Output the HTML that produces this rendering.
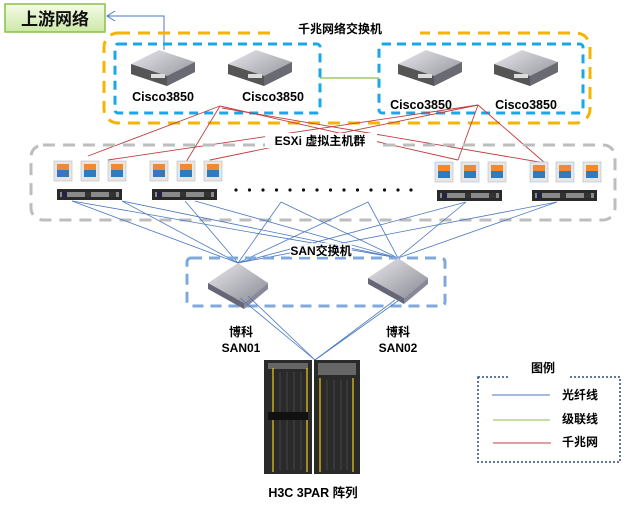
<!DOCTYPE html>
<html><head><meta charset="utf-8"><style>
body{margin:0;background:#fff}
svg{display:block;font-family:"Liberation Sans","Noto Sans CJK SC",sans-serif}
</style></head><body>
<svg width="629" height="505" viewBox="0 0 629 505" xmlns="http://www.w3.org/2000/svg">
<defs>
<linearGradient id="gg" x1="0" y1="0" x2="0" y2="1"><stop offset="0" stop-color="#f4fbe8"/><stop offset="1" stop-color="#cde8a6"/></linearGradient>
<linearGradient id="sw" x1="0" y1="0" x2="1" y2="1"><stop offset="0" stop-color="#e8e8ec"/><stop offset="1" stop-color="#8a8a94"/></linearGradient>
<g id="cisco">
<polygon points="0,14 28,0 64,12 64,22 36,36 0,24" fill="url(#sw)"/>
<polygon points="0,14 36,26 36,36 0,24" fill="#555"/>
<polygon points="36,26 64,12 64,22 36,36" fill="#6a6a72"/>
<rect x="20" y="24" width="14" height="4" fill="#ddd"/>
</g>
<g id="san">
<polygon points="0,20 30,0 60,20 36,40" fill="url(#sw)"/>
<polygon points="0,20 36,40 36,46 0,26" fill="#667"/>
<polygon points="36,40 60,20 60,26 36,46" fill="#889"/>
</g>
<g id="vm">
<rect x="0" y="0" width="18" height="20" fill="#e6e6e6" stroke="#bbb" stroke-width="0.6"/>
<rect x="3" y="3" width="12" height="6" fill="#f08a30"/>
<rect x="3" y="9" width="12" height="7" fill="#2e7bc0"/>
</g>
<g id="srv">
<rect x="0" y="0" width="65" height="11" fill="#2a2a2a"/>
<rect x="3" y="3" width="59" height="5" fill="#8a8a8a"/>
<rect x="5" y="3" width="5" height="5" fill="#224"/>
<rect x="28" y="3" width="6" height="5" fill="#333"/>
<rect x="52" y="3" width="7" height="5" fill="#333"/>
</g>
</defs>

<rect x="5" y="4" width="100" height="28" fill="url(#gg)" stroke="#8cbf4a" stroke-width="1.5"/>
<text x="55" y="25" font-size="17" font-weight="bold" text-anchor="middle" fill="#111">上游网络</text>
<polyline points="164,50 164,16 107,16" fill="none" stroke="#4a78c0" stroke-width="1"/>
<polyline points="115,11 107,16 115,21" fill="none" stroke="#4a78c0" stroke-width="1"/>

<rect x="104" y="33" width="486" height="90" rx="14" fill="none" stroke="#f5b400" stroke-width="3" stroke-dasharray="12,8"/>
<rect x="270" y="22" width="150" height="14" fill="#fff"/>
<text x="340" y="33" font-size="12" font-weight="bold" text-anchor="middle">千兆网络交换机</text>
<rect x="115" y="44" width="205" height="69" rx="3" fill="none" stroke="#1aa7e8" stroke-width="3" stroke-dasharray="9,6"/>
<rect x="379" y="44" width="204" height="69" rx="3" fill="none" stroke="#1aa7e8" stroke-width="3" stroke-dasharray="9,6"/>
<line x1="320" y1="78" x2="379" y2="78" stroke="#8cbf4a" stroke-width="1.2"/>
<use href="#cisco" x="131" y="50"/>
<use href="#cisco" x="228" y="50"/>
<use href="#cisco" x="398" y="50"/>
<use href="#cisco" x="494" y="50"/>
<g font-size="12.5" font-weight="bold" text-anchor="middle">
<text x="163" y="101">Cisco3850</text>
<text x="273" y="101">Cisco3850</text>
<text x="421" y="109">Cisco3850</text>
<text x="526" y="109">Cisco3850</text>
</g>

<g stroke="#c0403f" stroke-width="0.9" fill="none">
<line x1="220" y1="106" x2="88" y2="156"/>
<line x1="220" y1="106" x2="186" y2="162"/>
<line x1="220" y1="106" x2="458" y2="160"/>
<line x1="222" y1="108" x2="545" y2="163"/>
<line x1="478" y1="105" x2="458" y2="160"/>
<line x1="478" y1="105" x2="545" y2="163"/>
<line x1="478" y1="105" x2="108" y2="160"/>
<line x1="478" y1="105" x2="210" y2="160"/>
</g>

<rect x="31" y="145" width="584" height="75" rx="12" fill="none" stroke="#bdbdbd" stroke-width="3" stroke-dasharray="12,8"/>
<rect x="265" y="133" width="112" height="15" fill="#fff"/>
<text x="320" y="145" font-size="12" font-weight="bold" text-anchor="middle">ESXi 虚拟主机群</text>
<use href="#vm" x="54" y="161"/><use href="#vm" x="81" y="161"/><use href="#vm" x="108" y="161"/>
<use href="#vm" x="150" y="161"/><use href="#vm" x="177" y="161"/><use href="#vm" x="204" y="161"/>
<use href="#vm" x="435" y="162"/><use href="#vm" x="461" y="162"/><use href="#vm" x="488" y="162"/>
<use href="#vm" x="530" y="162"/><use href="#vm" x="556" y="162"/><use href="#vm" x="583" y="162"/>
<use href="#srv" x="57" y="189"/><use href="#srv" x="152" y="189"/>
<use href="#srv" x="437" y="190"/><use href="#srv" x="532" y="190"/>
<g fill="#111">
<circle cx="236" cy="190" r="1.6"/><circle cx="249.5" cy="190" r="1.6"/><circle cx="263" cy="190" r="1.6"/><circle cx="276.5" cy="190" r="1.6"/><circle cx="290" cy="190" r="1.6"/><circle cx="303.5" cy="190" r="1.6"/><circle cx="317" cy="190" r="1.6"/><circle cx="330.5" cy="190" r="1.6"/><circle cx="344" cy="190" r="1.6"/><circle cx="357.5" cy="190" r="1.6"/><circle cx="371" cy="190" r="1.6"/><circle cx="384.5" cy="190" r="1.6"/><circle cx="398" cy="190" r="1.6"/><circle cx="411" cy="190" r="1.6"/>
</g>

<g stroke="#4a78c0" stroke-width="0.8" fill="none">
<line x1="72" y1="201" x2="238" y2="263"/><line x1="72" y1="201" x2="398" y2="258"/>
<line x1="122" y1="201" x2="238" y2="263"/><line x1="122" y1="201" x2="398" y2="258"/>
<line x1="185" y1="201" x2="238" y2="263"/><line x1="195" y1="201" x2="398" y2="258"/>
<line x1="281" y1="202" x2="238" y2="263"/><line x1="281" y1="202" x2="398" y2="258"/>
<line x1="368" y1="202" x2="238" y2="263"/><line x1="368" y1="202" x2="398" y2="258"/>
<line x1="466" y1="202" x2="238" y2="263"/><line x1="466" y1="202" x2="398" y2="258"/>
<line x1="557" y1="202" x2="238" y2="263"/><line x1="557" y1="202" x2="398" y2="258"/>
</g>

<rect x="187" y="258" width="258" height="48" rx="4" fill="none" stroke="#7fa8dc" stroke-width="3" stroke-dasharray="11,7"/>
<rect x="290" y="243" width="62" height="14" fill="#fff" opacity="0.8"/>
<text x="321" y="255" font-size="12" font-weight="bold" text-anchor="middle">SAN交换机</text>
<use href="#san" x="208" y="263"/>
<use href="#san" x="368" y="258"/>
<g stroke="#4a78c0" stroke-width="0.8">
<line x1="240" y1="298" x2="315" y2="360"/><line x1="248" y1="296" x2="315" y2="360"/>
<line x1="395" y1="300" x2="315" y2="360"/><line x1="402" y1="298" x2="315" y2="360"/>
</g>
<g font-size="12" font-weight="bold" text-anchor="middle">
<text x="241" y="336">博科</text><text x="241" y="352">SAN01</text>
<text x="398" y="336">博科</text><text x="398" y="352">SAN02</text>
</g>

<rect x="264" y="360" width="48" height="114" fill="#2a2a2a"/>
<rect x="314" y="360" width="46" height="114" fill="#2a2a2a"/>
<rect x="268" y="363" width="40" height="6" fill="#666"/>
<rect x="318" y="363" width="38" height="12" fill="#666"/>
<g stroke="#e0c020" stroke-width="1.3">
<line x1="273" y1="368" x2="273" y2="472"/><line x1="307" y1="368" x2="307" y2="472"/>
<line x1="320" y1="378" x2="320" y2="472"/><line x1="353" y1="378" x2="353" y2="472"/>
</g>
<g stroke="#555" stroke-width="0.7">
<line x1="280" y1="372" x2="280" y2="470"/><line x1="287" y1="372" x2="287" y2="470"/><line x1="294" y1="372" x2="294" y2="470"/><line x1="301" y1="372" x2="301" y2="470"/>
<line x1="327" y1="380" x2="327" y2="470"/><line x1="334" y1="380" x2="334" y2="470"/><line x1="341" y1="380" x2="341" y2="470"/><line x1="347" y1="380" x2="347" y2="470"/>
</g>
<rect x="268" y="412" width="40" height="8" fill="#111"/>
<text x="313" y="497" font-size="12.5" font-weight="bold" text-anchor="middle">H3C 3PAR 阵列</text>

<rect x="478" y="377" width="142" height="85" fill="none" stroke="#2d4a7a" stroke-width="1.5" stroke-dasharray="2,2"/>
<rect x="510" y="370" width="60" height="12" fill="#fff"/>
<text x="543" y="372" font-size="12" font-weight="bold" text-anchor="middle">图例</text>
<line x1="492" y1="395" x2="550" y2="395" stroke="#4a78c0" stroke-width="1"/>
<line x1="493" y1="420" x2="550" y2="420" stroke="#8cbf4a" stroke-width="1"/>
<line x1="493" y1="443" x2="551" y2="443" stroke="#c0403f" stroke-width="1"/>
<g font-size="12" font-weight="bold">
<text x="562" y="399">光纤线</text>
<text x="562" y="423">级联线</text>
<text x="562" y="446">千兆网</text>
</g>
</svg>
</body></html>
